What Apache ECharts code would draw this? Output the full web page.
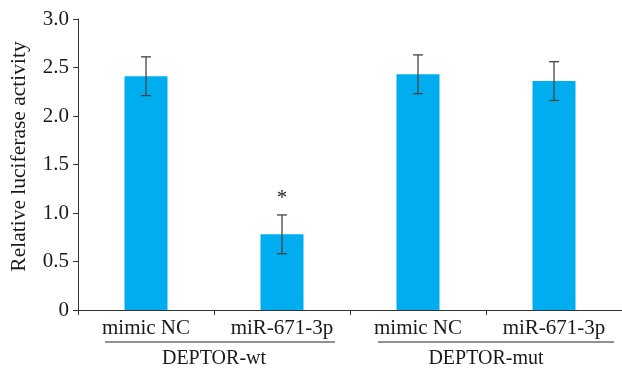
<!DOCTYPE html>
<html>
<head>
<meta charset="utf-8">
<script src="https://cdn.jsdelivr.net/npm/echarts@6/dist/echarts.min.js"></script>
<style>
  html, body { margin: 0; padding: 0; background: #fff; }
  #chart { width: 622px; height: 369px; }
</style>
</head>
<body>
<div id="chart"></div>
<script>
const categories = ["mimic NC", "miR-671-3p", "mimic NC", "miR-671-3p"];
const groups     = ["DEPTOR-wt", "DEPTOR-mut"];
const values     = [2.41, 0.78, 2.43, 2.36];
const errors     = [0.20, 0.20, 0.20, 0.20];
const marks      = ["", "*", "", ""];
const yTicks     = [0, 0.5, 1.0, 1.5, 2.0, 2.5, 3.0];

const chart = echarts.init(document.getElementById("chart"));
const font = "'Liberation Serif', 'Times New Roman', serif";

const option = {
  animation: false,
  grid: { left: 77, right: 0, top: 19, bottom: 58 },
  xAxis: [
    {
      type: "category",
      data: categories,
      axisLine: { lineStyle: { color: "#333", width: 1 } },
      axisTick: { show: true, length: 5, lineStyle: { color: "#333" } },
      axisLabel: { color: "#1a1a1a", fontFamily: font, fontSize: 21, margin: 8 },
    },
    {
      type: "category",
      data: groups,
      position: "bottom",
      offset: 39,
      axisLine: { show: false },
      axisTick: { show: false },
      axisLabel: { color: "#1a1a1a", fontFamily: font, fontSize: 20, margin: 0 },
    },
  ],
  yAxis: {
    type: "value",
    min: 0,
    max: 3,
    interval: 0.5,
    name: "Relative luciferase activity",
    nameLocation: "middle",
    nameGap: 48,
    nameTextStyle: { color: "#1a1a1a", fontFamily: font, fontSize: 21.5, padding: [0, 0, 0, 16] },
    axisLine: { show: true, lineStyle: { color: "#333", width: 1 } },
    axisTick: { show: true, inside: false, length: 5, lineStyle: { color: "#333" } },
    splitLine: { show: false },
    axisLabel: {
      color: "#1a1a1a",
      fontFamily: font,
      fontSize: 21,
      margin: 9,
      formatter: (v) => (yTicks.includes(v) ? (v === 0 ? "0" : v.toFixed(1)) : ""),
    },
  },
  series: [
    {
      type: "bar",
      data: values,
      barWidth: 43,
      itemStyle: { color: "#00aeef" },
    },
    {
      type: "custom",
      data: values.map((v, i) => [i, v, errors[i]]),
      z: 10,
      renderItem: (params, api) => {
        const i = api.value(0);
        const v = api.value(1);
        const e = api.value(2);
        const top = api.coord([i, v + e]);
        const bot = api.coord([i, v - e]);
        const cap = 5;
        const style = { stroke: "#444", lineWidth: 1.3 };
        const children = [
          { type: "line", shape: { x1: top[0], y1: top[1], x2: bot[0], y2: bot[1] }, style },
          { type: "line", shape: { x1: top[0] - cap, y1: top[1], x2: top[0] + cap, y2: top[1] }, style },
          { type: "line", shape: { x1: bot[0] - cap, y1: bot[1], x2: bot[0] + cap, y2: bot[1] }, style },
        ];
        if (marks[i]) {
          children.push({
            type: "text",
            style: {
              text: marks[i],
              x: top[0],
              y: top[1] - 6,
              align: "center",
              verticalAlign: "bottom",
              fill: "#1a1a1a",
              font: "20px " + font,
            },
          });
        }
        return { type: "group", children };
      },
    },
  ],
  graphic: [
    { type: "line", shape: { x1: 105, y1: 342, x2: 335, y2: 342 }, style: { stroke: "#222", lineWidth: 1 } },
    { type: "line", shape: { x1: 378, y1: 342, x2: 614, y2: 342 }, style: { stroke: "#222", lineWidth: 1 } },
  ],
};

chart.setOption(option);
</script>
</body>
</html>
